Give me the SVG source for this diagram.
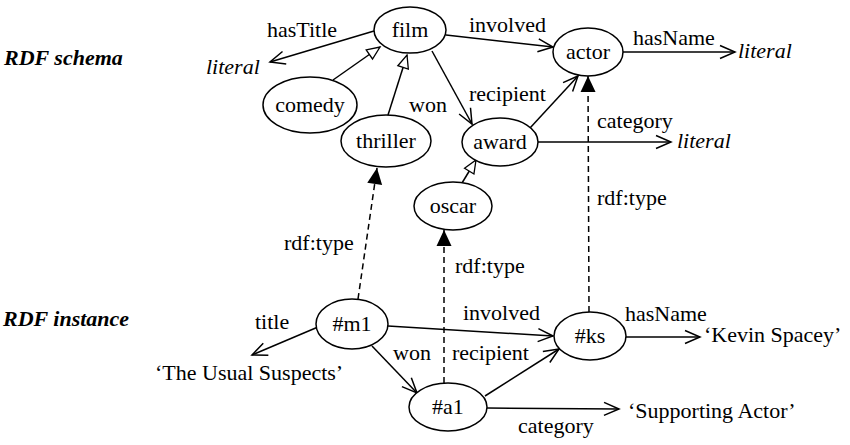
<svg xmlns="http://www.w3.org/2000/svg" width="850" height="445" viewBox="0 0 850 445">
<defs>
<style>
text{font-family:"Liberation Serif","Times New Roman",Times,"Noto Serif","DejaVu Serif",FreeSerif,serif;font-size:22px;fill:#000}
.it{font-style:italic}
.hd{font-style:italic;font-weight:bold}
.n{text-anchor:middle}
ellipse{fill:#fff;stroke:#000;stroke-width:1.5}
.e{fill:none;stroke:#000;stroke-width:1.5}
.sub{marker-end:url(#hollow)}
.prop{marker-end:url(#open)}
.typ{stroke-dasharray:6 4;marker-end:url(#filled)}
</style>
<marker id="open" markerWidth="16" markerHeight="14" refX="15" refY="7" orient="auto" markerUnits="userSpaceOnUse" overflow="visible"><path d="M0,0.5 L15,7 L0,13.5" fill="none" stroke="#000" stroke-width="1.5"/></marker>
<marker id="hollow" markerWidth="14" markerHeight="12" refX="13" refY="5.5" orient="auto" markerUnits="userSpaceOnUse" overflow="visible"><path d="M0,0 L13,5.5 L0,11 Z" fill="#fff" stroke="#000" stroke-width="1.3"/></marker>
<marker id="filled" markerWidth="17" markerHeight="16" refX="16" refY="7.5" orient="auto" markerUnits="userSpaceOnUse" overflow="visible"><path d="M0,0 L16,7.5 L0,15 Z" fill="#000"/></marker>
</defs>
<rect width="850" height="445" fill="#fff"/>
<g id="labels">
<text class="hd" x="4" y="65">RDF schema</text>
<text class="hd" x="3" y="326">RDF instance</text>
</g>
<g id="connectors">
<path class="e prop" d="M374,31 L270,62"/>
<path class="e prop" d="M446,35 L553,47"/>
<path class="e prop" d="M432,51 L472,124"/>
<path class="e prop" d="M530,128 L578,76"/>
<path class="e prop" d="M623,52 L735,52"/>
<path class="e prop" d="M538,142 L671,142"/>
<path class="e sub" d="M333,80 L380,47"/>
<path class="e sub" d="M388,115 L407,55"/>
<path class="e sub" d="M462,183 L476,160"/>
<path class="e typ" d="M358,299 L377,168"/>
<path class="e typ" d="M444,383 L444,230"/>
<path class="e typ" d="M589,312 L588,76"/>
<path class="e prop" d="M318,327 L252,355"/>
<path class="e prop" d="M388,326 L553,336"/>
<path class="e prop" d="M372,346 L417,393"/>
<path class="e prop" d="M485,396 L559,349"/>
<path class="e prop" d="M625,337 L700,337"/>
<path class="e prop" d="M487,408 L619,409"/>
<text x="267" y="37">hasTitle</text>
<text class="it" x="206" y="74">literal</text>
<text x="469" y="32">involved</text>
<text x="633" y="45">hasName</text>
<text class="it" x="738" y="58">literal</text>
<text x="409" y="112">won</text>
<text x="469" y="101">recipient</text>
<text x="597" y="128">category</text>
<text class="it" x="677" y="148">literal</text>
<text x="284" y="250">rdf:type</text>
<text x="455" y="273">rdf:type</text>
<text x="597" y="205">rdf:type</text>
<text x="255" y="329">title</text>
<text x="155" y="380">‘The Usual Suspects’</text>
<text x="463" y="320">involved</text>
<text x="393" y="360">won</text>
<text x="452" y="360">recipient</text>
<text x="625" y="321">hasName</text>
<text x="704" y="342">‘Kevin Spacey’</text>
<text x="628" y="418">‘Supporting Actor’</text>
<text x="518" y="433">category</text>
</g>
<g id="film"><ellipse cx="410" cy="30" rx="36" ry="23"/><text class="n" x="410" y="37">film</text></g>
<g id="comedy"><ellipse cx="310" cy="105" rx="47" ry="28"/><text class="n" x="310" y="112">comedy</text></g>
<g id="thriller"><ellipse cx="386" cy="141" rx="45" ry="26"/><text class="n" x="386" y="148">thriller</text></g>
<g id="actor"><ellipse cx="588" cy="52" rx="35" ry="24"/><text class="n" x="588" y="59">actor</text></g>
<g id="award"><ellipse cx="500" cy="142" rx="38" ry="24"/><text class="n" x="500" y="149">award</text></g>
<g id="oscar"><ellipse cx="453" cy="206" rx="39" ry="24"/><text class="n" x="453" y="213">oscar</text></g>
<g id="m1"><ellipse cx="352" cy="324" rx="36" ry="25"/><text class="n" x="352" y="331">#m1</text></g>
<g id="a1"><ellipse cx="448" cy="407" rx="39" ry="24"/><text class="n" x="448" y="414">#a1</text></g>
<g id="ks"><ellipse cx="590" cy="336" rx="36" ry="24"/><text class="n" x="590" y="343">#ks</text></g>
</svg>
